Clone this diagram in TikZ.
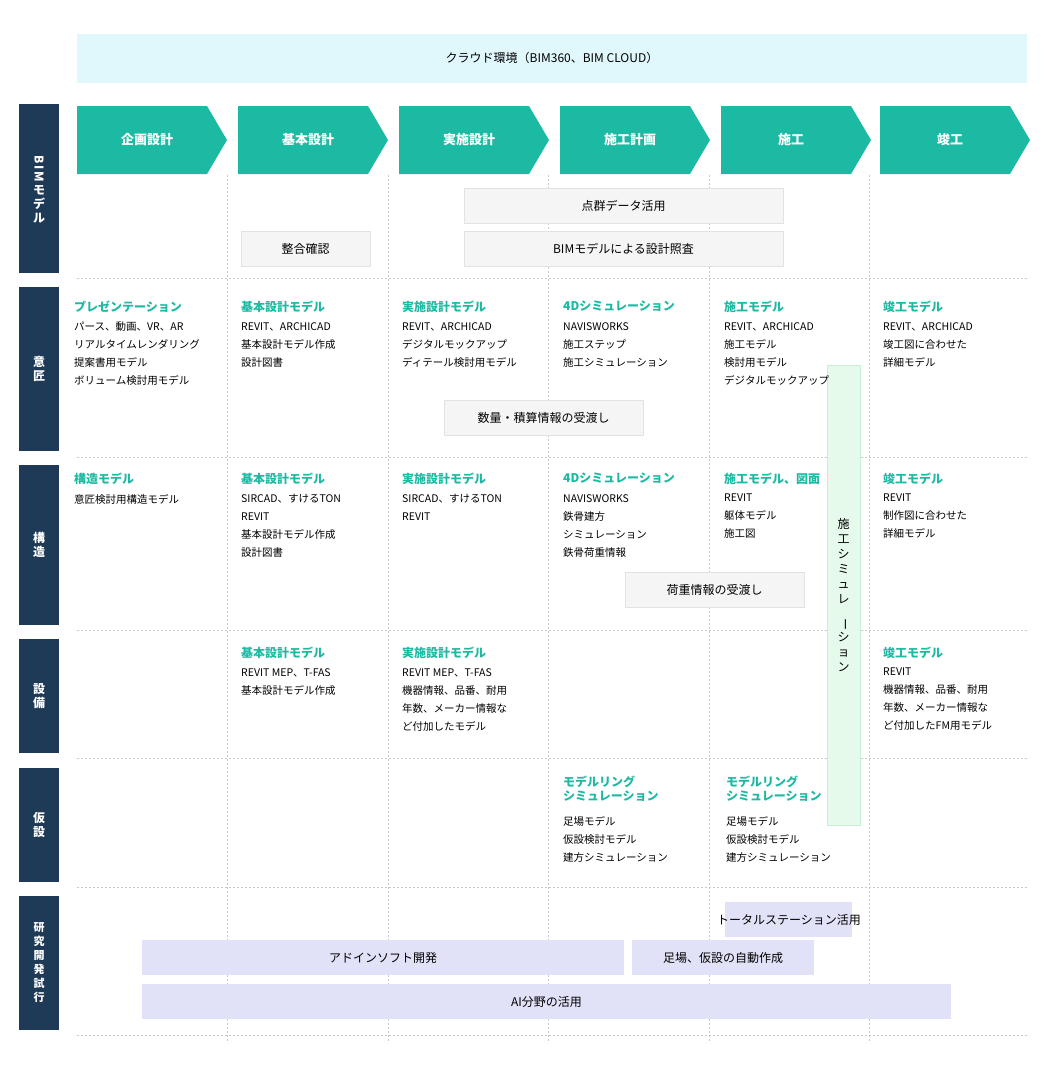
\documentclass[tikz,border=0pt]{standalone}
\usepackage{fontspec}
\usepackage{graphicx}
\setmainfont{Noto Sans CJK JP}
\newfontfamily\jpb{Noto Sans CJK JP}[BoldFont={* Bold}]
\definecolor{teal}{HTML}{1DBAA3}
\definecolor{navy}{HTML}{1F3A56}
\definecolor{cloud}{HTML}{E0F7FB}
\definecolor{grayf}{HTML}{F5F5F5}
\definecolor{grayb}{HTML}{E2E2E2}
\definecolor{lav}{HTML}{E1E1F7}
\definecolor{gfill}{HTML}{E6FAEC}
\definecolor{gbord}{HTML}{C8EFD3}
\definecolor{dotc}{HTML}{C8C8C8}
\begin{document}
\begin{tikzpicture}[x=1pt,y=-1pt,
  lbl/.style={fill=navy,text=white,font=\fontsize{12}{14}\selectfont\bfseries,align=center,inner sep=0},
  grid/.style={draw=dotc,dash pattern=on 2pt off 2pt,line width=0.6pt},
  gbox/.style={fill=grayf,draw=grayb,font=\fontsize{12}{14}\selectfont},
  lbox/.style={fill=lav,font=\fontsize{12}{14}\selectfont},
  hd/.style={text=teal,font=\fontsize{12}{14}\selectfont\bfseries,anchor=north west,inner sep=0,align=left},
  bd/.style={font=\fontsize{10.5}{18}\selectfont,anchor=north west,inner sep=0,align=left},
  ph/.style={text=white,font=\fontsize{13}{15}\selectfont\bfseries}]
\useasboundingbox (0,0) rectangle (1050,1080);
% cloud
\fill[cloud] (77,34) rectangle (1027,83);
\node[font=\fontsize{12}{14}\selectfont] (cloud) at (552,58) {クラウド環境（BIM360、BIM CLOUD）};
% grid
\foreach \x in {227,388,548,709,869} \draw[grid] (\x,175) -- (\x,1043);
\foreach \y in {278,457,630,758,887,1035} \draw[grid] (77,\y) -- (1027,\y);
% left labels
\fill[navy] (19,104) rectangle (59,273);
\node[text=white,font=\fontsize{12}{14}\selectfont\bfseries,align=center,inner sep=0] (l1) at (39,189) {\rotatebox{-90}{B\,I\,M}\\[2pt]モ\\デ\\ル};
\fill[navy] (19,287) rectangle (59,451); \node[lbl] (l2) at (39,369) {意\\匠};
\fill[navy] (19,465) rectangle (59,625); \node[lbl] (l3) at (39,545) {構\\造};
\fill[navy] (19,639) rectangle (59,753); \node[lbl] (l4) at (39,696) {設\\備};
\fill[navy] (19,768) rectangle (59,882); \node[lbl] (l5) at (39,825) {仮\\設};
\fill[navy] (19,896) rectangle (59,1030); \node[lbl,font=\fontsize{11}{14}\selectfont\bfseries] (l6) at (39,963) {研\\究\\開\\発\\試\\行};
% phases
\foreach \x/\t [count=\i] in {77/企画設計,238/基本設計,399/実施設計,560/施工計画,721/施工,880/竣工}{
  \fill[teal] (\x,106) -- (\x+130,106) -- (\x+150,140) -- (\x+130,174) -- (\x,174) -- cycle;
  \node[ph] (p\i) at (\x+70,140) {\t};
}
% gray boxes
\node[gbox,minimum width=319,minimum height=35] (g1) at (623.5,205.5) {点群データ活用};
\node[gbox,minimum width=319,minimum height=35] (g2) at (623.5,248.5) {BIMモデルによる設計照査};
\node[gbox,minimum width=129,minimum height=35] (g3) at (305.5,248.5) {整合確認};
% green vertical
\node[fill=gfill,draw=gbord,minimum width=33,minimum height=460] (gv) at (843.5,595) {};
\node[font=\fontsize{12}{15}\selectfont,align=center,inner sep=0] (gvt) at (843.5,595) {施\\工\\シ\\ミ\\ュ\\レ\\\rotatebox{-90}{ー}\\シ\\ョ\\ン};
\node[gbox,minimum width=199,minimum height=35] (g4) at (543.5,417.5) {数量・積算情報の受渡し};
\node[gbox,minimum width=179,minimum height=35] (g5) at (714.5,589.5) {荷重情報の受渡し};
% row 意匠
\node[hd] (a1) at (74,301) {プレゼンテーション};
\node[bd] (b1) at (74,322) {パース、動画、VR、AR\\リアルタイムレンダリング\\提案書用モデル\\ボリューム検討用モデル};
\node[hd] (a2) at (241,301) {基本設計モデル};
\node[bd] (b2) at (241,322) {REVIT、ARCHICAD\\基本設計モデル作成\\設計図書};
\node[hd] (a3) at (402,301) {実施設計モデル};
\node[bd] (b3) at (402,322) {REVIT、ARCHICAD\\デジタルモックアップ\\ディテール検討用モデル};
\node[hd] (a4) at (563,301) {4Dシミュレーション};
\node[bd] (b4) at (563,322) {NAVISWORKS\\施工ステップ\\施工シミュレーション};
\node[hd] (a5) at (724,301) {施工モデル};
\node[bd] (b5) at (724,322) {REVIT、ARCHICAD\\施工モデル\\検討用モデル\\デジタルモックアップ};
\node[hd] (a6) at (883,301) {竣工モデル};
\node[bd] (b6) at (883,322) {REVIT、ARCHICAD\\竣工図に合わせた\\詳細モデル};
% row 構造
\node[hd] (c1) at (74,473) {構造モデル};
\node[bd] (d1) at (74,494) {意匠検討用構造モデル};
\node[hd] (c2) at (241,473) {基本設計モデル};
\node[bd] (d2) at (241,494) {SIRCAD、すけるTON\\REVIT\\基本設計モデル作成\\設計図書};
\node[hd] (c3) at (402,473) {実施設計モデル};
\node[bd] (d3) at (402,494) {SIRCAD、すけるTON\\REVIT};
\node[hd] (c4) at (563,473) {4Dシミュレーション};
\node[bd] (d4) at (563,494) {NAVISWORKS\\鉄骨建方\\シミュレーション\\鉄骨荷重情報};
\node[hd] (c5) at (724,473) {施工モデル、図面};
\node[bd] (d5) at (724,494) {REVIT\\躯体モデル\\施工図};
\node[hd] (c6) at (883,473) {竣工モデル};
\node[bd] (d6) at (883,494) {REVIT\\制作図に合わせた\\詳細モデル};
% row 設備
\node[hd] (e2) at (241,647) {基本設計モデル};
\node[bd] (f2) at (241,668) {REVIT MEP、T-FAS\\基本設計モデル作成};
\node[hd] (e3) at (402,647) {実施設計モデル};
\node[bd] (f3) at (402,668) {REVIT MEP、T-FAS\\機器情報、品番、耐用\\年数、メーカー情報な\\ど付加したモデル};
\node[hd] (e6) at (883,647) {竣工モデル};
\node[bd] (f6) at (883,668) {REVIT\\機器情報、品番、耐用\\年数、メーカー情報な\\ど付加したFM用モデル};
% row 仮設
\node[hd,align=left] (h4) at (563,776) {モデルリング\\シミュレーション};
\node[bd] (i4) at (563,816) {足場モデル\\仮設検討モデル\\建方シミュレーション};
\node[hd,align=left] (h5) at (726,776) {モデルリング\\シミュレーション};
\node[bd] (i5) at (726,816) {足場モデル\\仮設検討モデル\\建方シミュレーション};
% research
\fill[lav] (725,902) rectangle (852,937);
\node[font=\fontsize{12}{14}\selectfont] (r1) at (789,919.5) {トータルステーション活用};
\node[lbox,minimum width=482,minimum height=35] (r2) at (383,957.5) {アドインソフト開発};
\node[lbox,minimum width=182,minimum height=35] (r3) at (723,957.5) {足場、仮設の自動作成};
\node[lbox,minimum width=809,minimum height=35] (r4) at (546.5,1001.5) {AI分野の活用};
\end{tikzpicture}
\end{document}
